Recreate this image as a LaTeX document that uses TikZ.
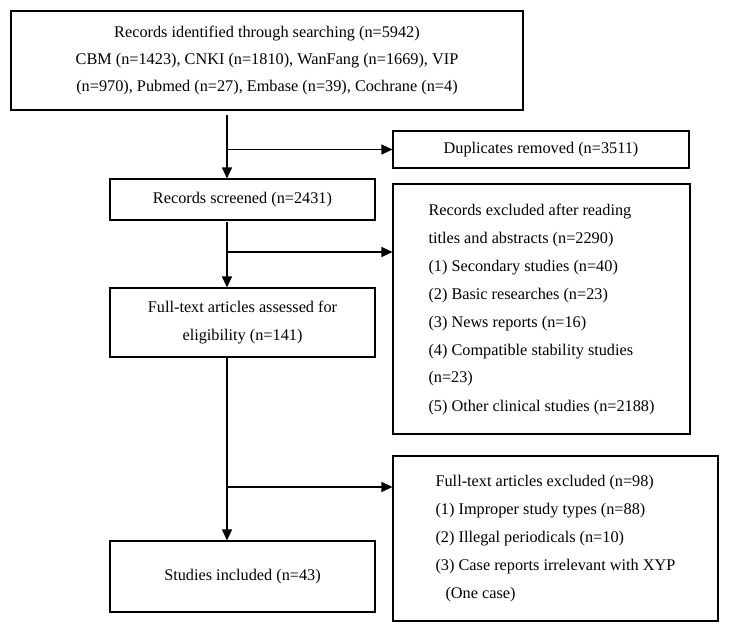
\documentclass[tikz,border=0pt]{standalone}
\usepackage{fontspec}
\setmainfont{Liberation Serif}
\usepackage{tikz}
\usetikzlibrary{arrows.meta}

\begin{document}
\begin{tikzpicture}[x=0.75pt,y=0.75pt,yscale=-1,xscale=1,
  box/.style={draw, line width=0.8pt, inner sep=0pt, font=\fontsize{12.2}{21}\selectfont},
  arr/.style={line width=0.8pt, -{Triangle[length=8.25pt,width=7.5pt]}}]
\useasboundingbox (0,0) rectangle (729,632);

%Shape: Rectangle (search)
\node [box, align=center, minimum width=384pt, minimum height=74.25pt, font=\fontsize{12.2}{20}\selectfont] (search) at (267,60.5)
  {Records identified through searching (n=5942)\\CBM (n=1423), CNKI (n=1810), WanFang (n=1669), VIP\\(n=970), Pubmed (n=27), Embase (n=39), Cochrane (n=4)};
%Shape: Rectangle (dup)
\node [box, minimum width=222pt, minimum height=27.75pt] (dup) at (541,149.5) {Duplicates removed (n=3511)};
%Shape: Rectangle (screen)
\node [box, minimum width=198.75pt, minimum height=30.75pt] (screen) at (242.5,199.5) {Records screened (n=2431)};
%Shape: Rectangle (exclA)
\node [box, align=left, minimum width=222.75pt, minimum height=187.5pt] (exclA) at (541.5,309)
  {Records excluded after reading\\titles and abstracts (n=2290)\\(1) Secondary studies (n=40)\\(2) Basic researches (n=23)\\(3) News reports (n=16)\\(4) Compatible stability studies\\(n=23)\\(5) Other clinical studies (n=2188)};
%Shape: Rectangle (full)
\node [box, align=center, minimum width=198.75pt, minimum height=51.75pt] (full) at (242.5,322.5)
  {Full-text articles assessed for\\eligibility (n=141)};
%Shape: Rectangle (exclB)
\node [box, align=left, minimum width=243.75pt, minimum height=123.75pt] (exclB) at (555.5,538.5)
  {Full-text articles excluded (n=98)\\(1) Improper study types (n=88)\\(2) Illegal periodicals (n=10)\\(3) Case reports irrelevant with XYP\\\hspace*{7.5pt}(One case)};
%Shape: Rectangle (incl)
\node [box, minimum width=198.75pt, minimum height=53.25pt] (incl) at (242.5,576.5) {Studies included (n=43)};

% spine points
\coordinate (s1) at (227,115);
\coordinate (s2) at (227,222);
\coordinate (s3) at (227,358);
\coordinate (b2) at (227,252);
\coordinate (b3) at (227,487);

%Straight Lines
\draw [arr] (s1) -- (s1 |- screen.north);
\draw [arr] (s1 |- dup.west) -- (dup.west);
\draw [arr] (s2) -- (s2 |- full.north);
\draw [arr] (b2) -- (b2 -| exclA.west);
\draw [arr] (s3) -- (s3 |- incl.north);
\draw [arr] (b3) -- (b3 -| exclB.west);
\end{tikzpicture}
\end{document}
